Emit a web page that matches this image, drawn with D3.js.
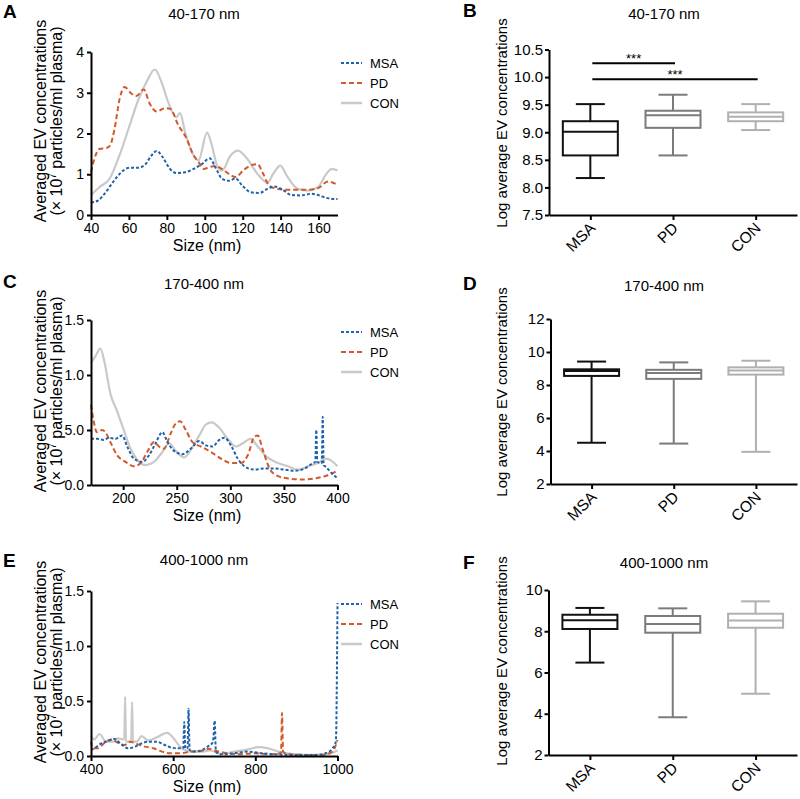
<!DOCTYPE html>
<html>
<head>
<meta charset="utf-8">
<script src="https://cdn.jsdelivr.net/npm/d3@7"></script>
<style>
  body { margin: 0; background: #fff; }
  svg { display: block; }
</style>
</head>
<body>
<svg id="svg1" width="800" height="799"></svg>
<script>
// ---- data ----
var groups = ['MSA', 'PD', 'CON'];

// panel A: 40-170 nm, [size nm, conc x10^7]
var sizeTicksA = [40, 60, 80, 100, 120, 140, 160];
var concTicksA = [0, 1, 2, 3, 4];
var msaA = [[40,.31],[43.5,.35],[47.1,.52],[51.5,.8],[56,1.05],[60.4,1.16],[64.8,1.16],[68.4,1.23],[71.9,1.46],[74.6,1.57],[77.8,1.42],[81.7,1.13],[85.2,1.03],[89.6,1.05],[94.1,1.13],[98.5,1.25],[102.6,1.39],[105.6,1.17],[109.1,.89],[112.7,.84],[116.2,.9],[119.8,.72],[124.2,.56],[128.7,.54],[133,.64],[136.6,.7],[141.1,.62],[145.5,.49],[150.8,.48],[156.1,.52],[159.7,.49],[164.1,.42],[170,.39]];
var pdA = [[40,1.05],[41.8,1.38],[44.4,1.62],[48,1.64],[50,1.7],[52.4,2.11],[55.1,2.85],[57.7,3.14],[61.3,2.98],[63.9,2.92],[67.8,3.08],[71,2.73],[74.6,2.54],[79,2.62],[81.7,2.61],[86.1,2.2],[90.5,1.87],[93.7,1.5],[96.7,1.3],[99.4,1.13],[102.1,1.17],[105.6,1.2],[109.1,1.13],[112.7,1.01],[116.2,.93],[120.6,1.11],[125.1,1.23],[127.8,1.25],[130.4,1.05],[134,.72],[138.4,.64],[143.7,.62],[149,.62],[154.4,.62],[159.7,.66],[165,.82],[170,.74]];
var conA = [[40,.49],[44.4,.68],[49.8,.89],[55,1.46],[60.4,2.2],[64.8,2.81],[69.2,3.26],[73.7,3.57],[77.2,3.26],[80.7,2.77],[84.9,2.4],[87,2.5],[89.6,2.03],[94.1,1.46],[96.7,1.34],[101.2,2.02],[103.8,1.7],[106.5,1.21],[109.1,1.09],[113.6,1.46],[117.5,1.58],[122.4,1.38],[127.8,1.01],[133,.8],[136.6,1.05],[139.8,1.21],[143.7,.93],[149,.64],[154.4,.6],[159.7,.68],[164.1,1.01],[167.1,1.13],[170,1.09]];

// panel C: 170-400 nm
var sizeTicksC = [200, 250, 300, 350, 400];
var concTicksC = [0, 0.5, 1, 1.5];
var concLabelsC = ['0.0', '5.0', '1.0', '1.5'];   // printed this way in the figure
var msaC = [[170,.42],[175.6,.42],[181.9,.41],[186.6,.43],[192.8,.42],[199.1,.45],[203.8,.35],[210,.24],[217.8,.21],[224.1,.27],[230.3,.38],[236.6,.48],[241.3,.39],[247.5,.31],[255.3,.28],[263.1,.33],[271,.4],[277.2,.36],[283.4,.35],[289.7,.41],[294.4,.43],[300.6,.36],[306.9,.24],[313.1,.17],[322.5,.14],[331.9,.15],[341.3,.15],[350.6,.14],[360,.13],[369.4,.15],[377.2,.2],[379.3,.21],[380.2,.5],[381.1,.21],[385.3,.2],[386.2,.62],[387.1,.18],[388.5,.17],[394.4,.11],[400,.06]];
var pdC = [[170,.73],[172.5,.58],[175.6,.48],[180.3,.5],[183.4,.48],[188.1,.39],[194.4,.27],[202.2,.21],[210,.17],[216.3,.2],[222.5,.3],[228.8,.39],[233.4,.35],[238.1,.33],[244.4,.47],[249.1,.56],[253.1,.58],[258.4,.5],[264.7,.39],[272.5,.35],[281.9,.3],[291.3,.24],[300.6,.2],[310,.2],[316.3,.27],[322.5,.44],[325.6,.45],[330.3,.32],[336.6,.15],[344.4,.08],[353.8,.06],[366.3,.05],[378.8,.06],[388.1,.08],[395.9,.11],[400,.13]];
var conC = [[170,1.11],[174,1.17],[178.8,1.24],[182.5,1.12],[188.1,.83],[194.4,.67],[200.6,.5],[206.9,.33],[213.1,.23],[220.9,.18],[228.8,.21],[236.6,.3],[242.8,.38],[249.1,.31],[256.9,.25],[263.1,.32],[271,.45],[277.2,.55],[282.5,.57],[289.7,.52],[297.5,.42],[305.3,.35],[311.6,.38],[318.8,.42],[325.6,.35],[333.4,.26],[344.4,.2],[353.8,.17],[363.1,.14],[372.5,.17],[381.9,.2],[389.7,.24],[400,.17]];

// panel E: 400-1000 nm
var sizeTicksE = [400, 600, 800, 1000];
var concTicksE = [0, 0.5, 1, 1.5];
var concLabelsE = ['0.0', '0.5', '1.0', '1.5'];
var msaE = [[400,.055],[408,.07],[425,.115],[441,.135],[457,.155],[474,.105],[490,.07],[507,.085],[523,.115],[540,.13],[560,.13],[577,.105],[597,.075],[614,.07],[624.5,.07],[627,.31],[629.5,.07],[635,.07],[637.5,.43],[640,.055],[651,.04],[667,.05],[684,.085],[697,.13],[701,.32],[704,.04],[716,.015],[749,.025],[782,.04],[815,.025],[848,.015],[897,.01],[947,.01],[971,.025],[988,.07],[996,.13],[1000,1.39]];
var pdE = [[400,.13],[404,.07],[416,.07],[433,.12],[449,.15],[466,.12],[482,.1],[494.5,.13],[511,.11],[531.5,.085],[552,.07],[572.6,.04],[593,.025],[618,.025],[642.5,.04],[667,.045],[687.7,.065],[704,.045],[724.6,.03],[757.5,.015],[798.6,.025],[831.5,.015],[862.5,.025],[865,.39],[867.5,.04],[880.8,.015],[922,.01],[963,.01],[987.7,.04],[1000,.145]];
var conE = [[400,.18],[408,.15],[420.5,.2],[437,.13],[453.4,.13],[465.8,.16],[481,.15],[483,.54],[485,.13],[490.4,.13],[498,.13],[500,.49],[502,.13],[511,.13],[523.3,.18],[539.7,.14],[560.3,.17],[585,.21],[601.4,.16],[617.8,.08],[642.5,.04],[667.1,.04],[691.8,.05],[716.4,.02],[749.3,.04],[782.2,.06],[806.8,.08],[831.5,.07],[856.2,.04],[897.3,.015],[946.6,.01],[979.5,.02],[1000,.05]];

// box plots: [min, q1, median, q3, max] for MSA, PD, CON
var logTicksB = [7.5, 8, 8.5, 9, 9.5, 10, 10.5];
var boxB = [[8.17,8.58,9.01,9.2,9.51],[8.58,9.08,9.31,9.39,9.68],[9.04,9.2,9.28,9.36,9.51]];
var sigB = [['MSA','PD',10.25],['MSA','CON',9.96]];
var logTicksD = [2, 4, 6, 8, 10, 12];
var boxD = [[4.5,8.55,8.85,8.95,9.42],[4.45,8.37,8.72,8.92,9.37],[3.95,8.63,8.88,9.07,9.47]];
var logTicksF = [2, 4, 6, 8, 10];
var boxF = [[6.48,8.11,8.53,8.8,9.13],[3.83,7.93,8.35,8.74,9.11],[4.97,8.17,8.52,8.85,9.45]];

// ---- styles ----
var font = '"Liberation Sans", Arial, Helvetica, sans-serif';
var lineColor = {MSA: '#1f63aa', PD: '#d4582a', CON: '#c9c9c9'};
var lineDash = {MSA: '3,2', PD: '5,3', CON: null};
var boxColor = ['#111111', '#7b7b7b', '#b0b0b0'];

var svg = d3.select('#svg1');

function styleAxis(g, size) {
    g.attr('font-family', font).attr('font-size', size);
    g.select('.domain').attr('stroke', '#000').attr('stroke-width', 2);
    g.selectAll('.tick line').attr('stroke', '#000').attr('stroke-width', 2);
    g.selectAll('.tick text').attr('fill', '#000');
}

function addText(x, y, txt, size, opts) {
    opts = opts || {};
    return svg.append('text')
        .attr('x', x).attr('y', y)
        .attr('text-anchor', opts.anchor || 'middle')
        .attr('font-family', font)
        .attr('font-size', size)
        .attr('font-weight', opts.bold ? 'bold' : 'normal')
        .attr('fill', '#000')
        .text(txt);
}

// line chart panel (A, C, E)
function linePanel(p) {
    var x = d3.scaleLinear().domain(p.xDomain).range([91, 337.5]);
    var y = d3.scaleLinear().domain(p.yDomain).range(p.yRange);

    var line = d3.line()
        .x(function(d){ return x(d[0]); })
        .y(function(d){ return y(d[1]); })
        .curve(d3.curveMonotoneX);

    // CON under the dashed ones
    var order = ['CON', 'PD', 'MSA'];
    order.forEach(function(name){
        svg.append('path')
            .datum(p.series[name])
            .attr('d', line)
            .attr('fill', 'none')
            .attr('stroke', lineColor[name])
            .attr('stroke-width', name == 'CON' ? 2.2 : 2)
            .attr('stroke-dasharray', lineDash[name]);
    });

    var xAxis = svg.append('g')
        .attr('transform', 'translate(0,' + p.yRange[0] + ')')
        .call(d3.axisBottom(x).tickValues(p.xTicks).tickSize(5).tickSizeOuter(0).tickPadding(3)
            .tickFormat(d3.format('d')));
    styleAxis(xAxis, 14);

    var yAxis = svg.append('g')
        .attr('transform', 'translate(' + x.range()[0] + ',0)')
        .call(d3.axisLeft(y).tickValues(p.yTicks).tickSize(4).tickSizeOuter(0).tickPadding(3)
            .tickFormat(function(d, i){ return p.yLabels ? p.yLabels[i] : d; }));
    styleAxis(yAxis, 14);

    // titles
    addText(207, p.yRange[0] + 36, 'Size (nm)', 16);
    addText(204, p.titleY, p.title, 15);
    addText(3, p.letterY, p.letter, 19, {anchor: 'start', bold: true});

    // two-line y label
    var cy = p.labelCY;
    svg.append('text')
        .attr('transform', 'translate(46,' + cy + ') rotate(-90)')
        .attr('text-anchor', 'middle')
        .attr('font-family', font).attr('font-size', 16)
        .text('Averaged EV concentrations');
    var t2 = svg.append('text')
        .attr('transform', 'translate(62,' + cy + ') rotate(-90)')
        .attr('text-anchor', 'middle')
        .attr('font-family', font).attr('font-size', 16);
    t2.append('tspan').text('(\u00d7 10');
    t2.append('tspan').attr('font-size', 10).attr('dy', -6).text('7');
    t2.append('tspan').attr('dy', 6).text(' particles/ml plasma)');

    // legend
    groups.forEach(function(name, i){
        var ly = p.legendY + i * 20;
        svg.append('line')
            .attr('x1', 341).attr('x2', 362)
            .attr('y1', ly).attr('y2', ly)
            .attr('stroke', lineColor[name])
            .attr('stroke-width', name == 'CON' ? 2.5 : 2.2)
            .attr('stroke-dasharray', lineDash[name]);
        addText(370, ly + 4.5, name, 13, {anchor: 'start'});
    });
}

// box plot panel (B, D, F)
function boxPanel(p) {
    var x = d3.scalePoint().domain(groups).range([p.axisX, 797]).padding(0.5);
    var y = d3.scaleLinear().domain(p.yDomain).range(p.yRange);
    var bw = 55, cw = 29;

    p.stats.forEach(function(s, i){
        var cx = x(groups[i]);
        var g = svg.append('g')
            .attr('stroke', boxColor[i])
            .attr('stroke-width', 2)
            .attr('fill', 'none');
        // whiskers
        g.append('line').attr('x1', cx).attr('x2', cx).attr('y1', y(s[0])).attr('y2', y(s[1]));
        g.append('line').attr('x1', cx).attr('x2', cx).attr('y1', y(s[3])).attr('y2', y(s[4]));
        g.append('line').attr('x1', cx - cw/2).attr('x2', cx + cw/2).attr('y1', y(s[0])).attr('y2', y(s[0]));
        g.append('line').attr('x1', cx - cw/2).attr('x2', cx + cw/2).attr('y1', y(s[4])).attr('y2', y(s[4]));
        // box + median
        g.append('rect')
            .attr('x', cx - bw/2).attr('width', bw)
            .attr('y', y(s[3])).attr('height', y(s[1]) - y(s[3]));
        g.append('line').attr('x1', cx - bw/2).attr('x2', cx + bw/2).attr('y1', y(s[2])).attr('y2', y(s[2]));
    });

    if (p.sig) {
        p.sig.forEach(function(b){
            var x1 = x(b[0]) + 2, x2 = x(b[1]) + 2, yy = y(b[2]);
            svg.append('line')
                .attr('x1', x1).attr('x2', x2).attr('y1', yy).attr('y2', yy)
                .attr('stroke', '#000').attr('stroke-width', 2);
            addText((x1 + x2) / 2, yy - 0.5, '***', 13);
        });
    }

    var xAxis = svg.append('g')
        .attr('transform', 'translate(0,' + p.yRange[0] + ')')
        .call(d3.axisBottom(x).tickSize(5).tickSizeOuter(0).tickFormat(''));
    styleAxis(xAxis, 15);

    var yAxis = svg.append('g')
        .attr('transform', 'translate(' + p.axisX + ',0)')
        .call(d3.axisLeft(y).tickValues(p.yTicks).tickSize(4).tickSizeOuter(0).tickPadding(2)
            .tickFormat(p.fmt));
    styleAxis(yAxis, 15);

    groups.forEach(function(name){
        svg.append('text')
            .attr('transform', 'translate(' + (x(name) + 6) + ',' + (p.yRange[0] + 14) + ') rotate(-45)')
            .attr('text-anchor', 'end')
            .attr('font-family', font).attr('font-size', 15.5)
            .text(name);
    });

    addText(664, p.titleY, p.title, 15);
    addText(463, p.letterY, p.letter, 19, {anchor: 'start', bold: true});
    svg.append('text')
        .attr('transform', 'translate(507,' + p.labelCY + ') rotate(-90)')
        .attr('text-anchor', 'middle')
        .attr('font-family', font).attr('font-size', 15)
        .text('Log average EV concentrations');
}

linePanel({
    letter: 'A', letterY: 18, title: '40-170 nm', titleY: 19,
    xDomain: [40, 170], xTicks: sizeTicksA,
    yDomain: [0, 4], yRange: [215, 52], yTicks: concTicksA,
    series: {MSA: msaA, PD: pdA, CON: conA},
    labelCY: 121, legendY: 63
});

linePanel({
    letter: 'C', letterY: 288, title: '170-400 nm', titleY: 289,
    xDomain: [170, 400], xTicks: sizeTicksC,
    yDomain: [0, 1.5], yRange: [485, 320], yTicks: concTicksC, yLabels: concLabelsC,
    series: {MSA: msaC, PD: pdC, CON: conC},
    labelCY: 391, legendY: 332
});

linePanel({
    letter: 'E', letterY: 567, title: '400-1000 nm', titleY: 565,
    xDomain: [400, 1000], xTicks: sizeTicksE,
    yDomain: [0, 1.5], yRange: [756, 591], yTicks: concTicksE, yLabels: concLabelsE,
    series: {MSA: msaE, PD: pdE, CON: conE},
    labelCY: 662, legendY: 604
});

boxPanel({
    letter: 'B', letterY: 17, title: '40-170 nm', titleY: 19,
    axisX: 549, yDomain: [7.5, 10.5], yRange: [215, 49.5], yTicks: logTicksB,
    fmt: d3.format('.1f'), stats: boxB, sig: sigB, labelCY: 123
});

boxPanel({
    letter: 'D', letterY: 290, title: '170-400 nm', titleY: 291,
    axisX: 550.5, yDomain: [2, 12], yRange: [484, 319], yTicks: logTicksD,
    fmt: d3.format('d'), stats: boxD, labelCY: 392
});

boxPanel({
    letter: 'F', letterY: 569, title: '400-1000 nm', titleY: 568,
    axisX: 548.5, yDomain: [2, 10], yRange: [755, 590], yTicks: logTicksF,
    fmt: d3.format('d'), stats: boxF, labelCY: 661
});
</script>
</body>
</html>
